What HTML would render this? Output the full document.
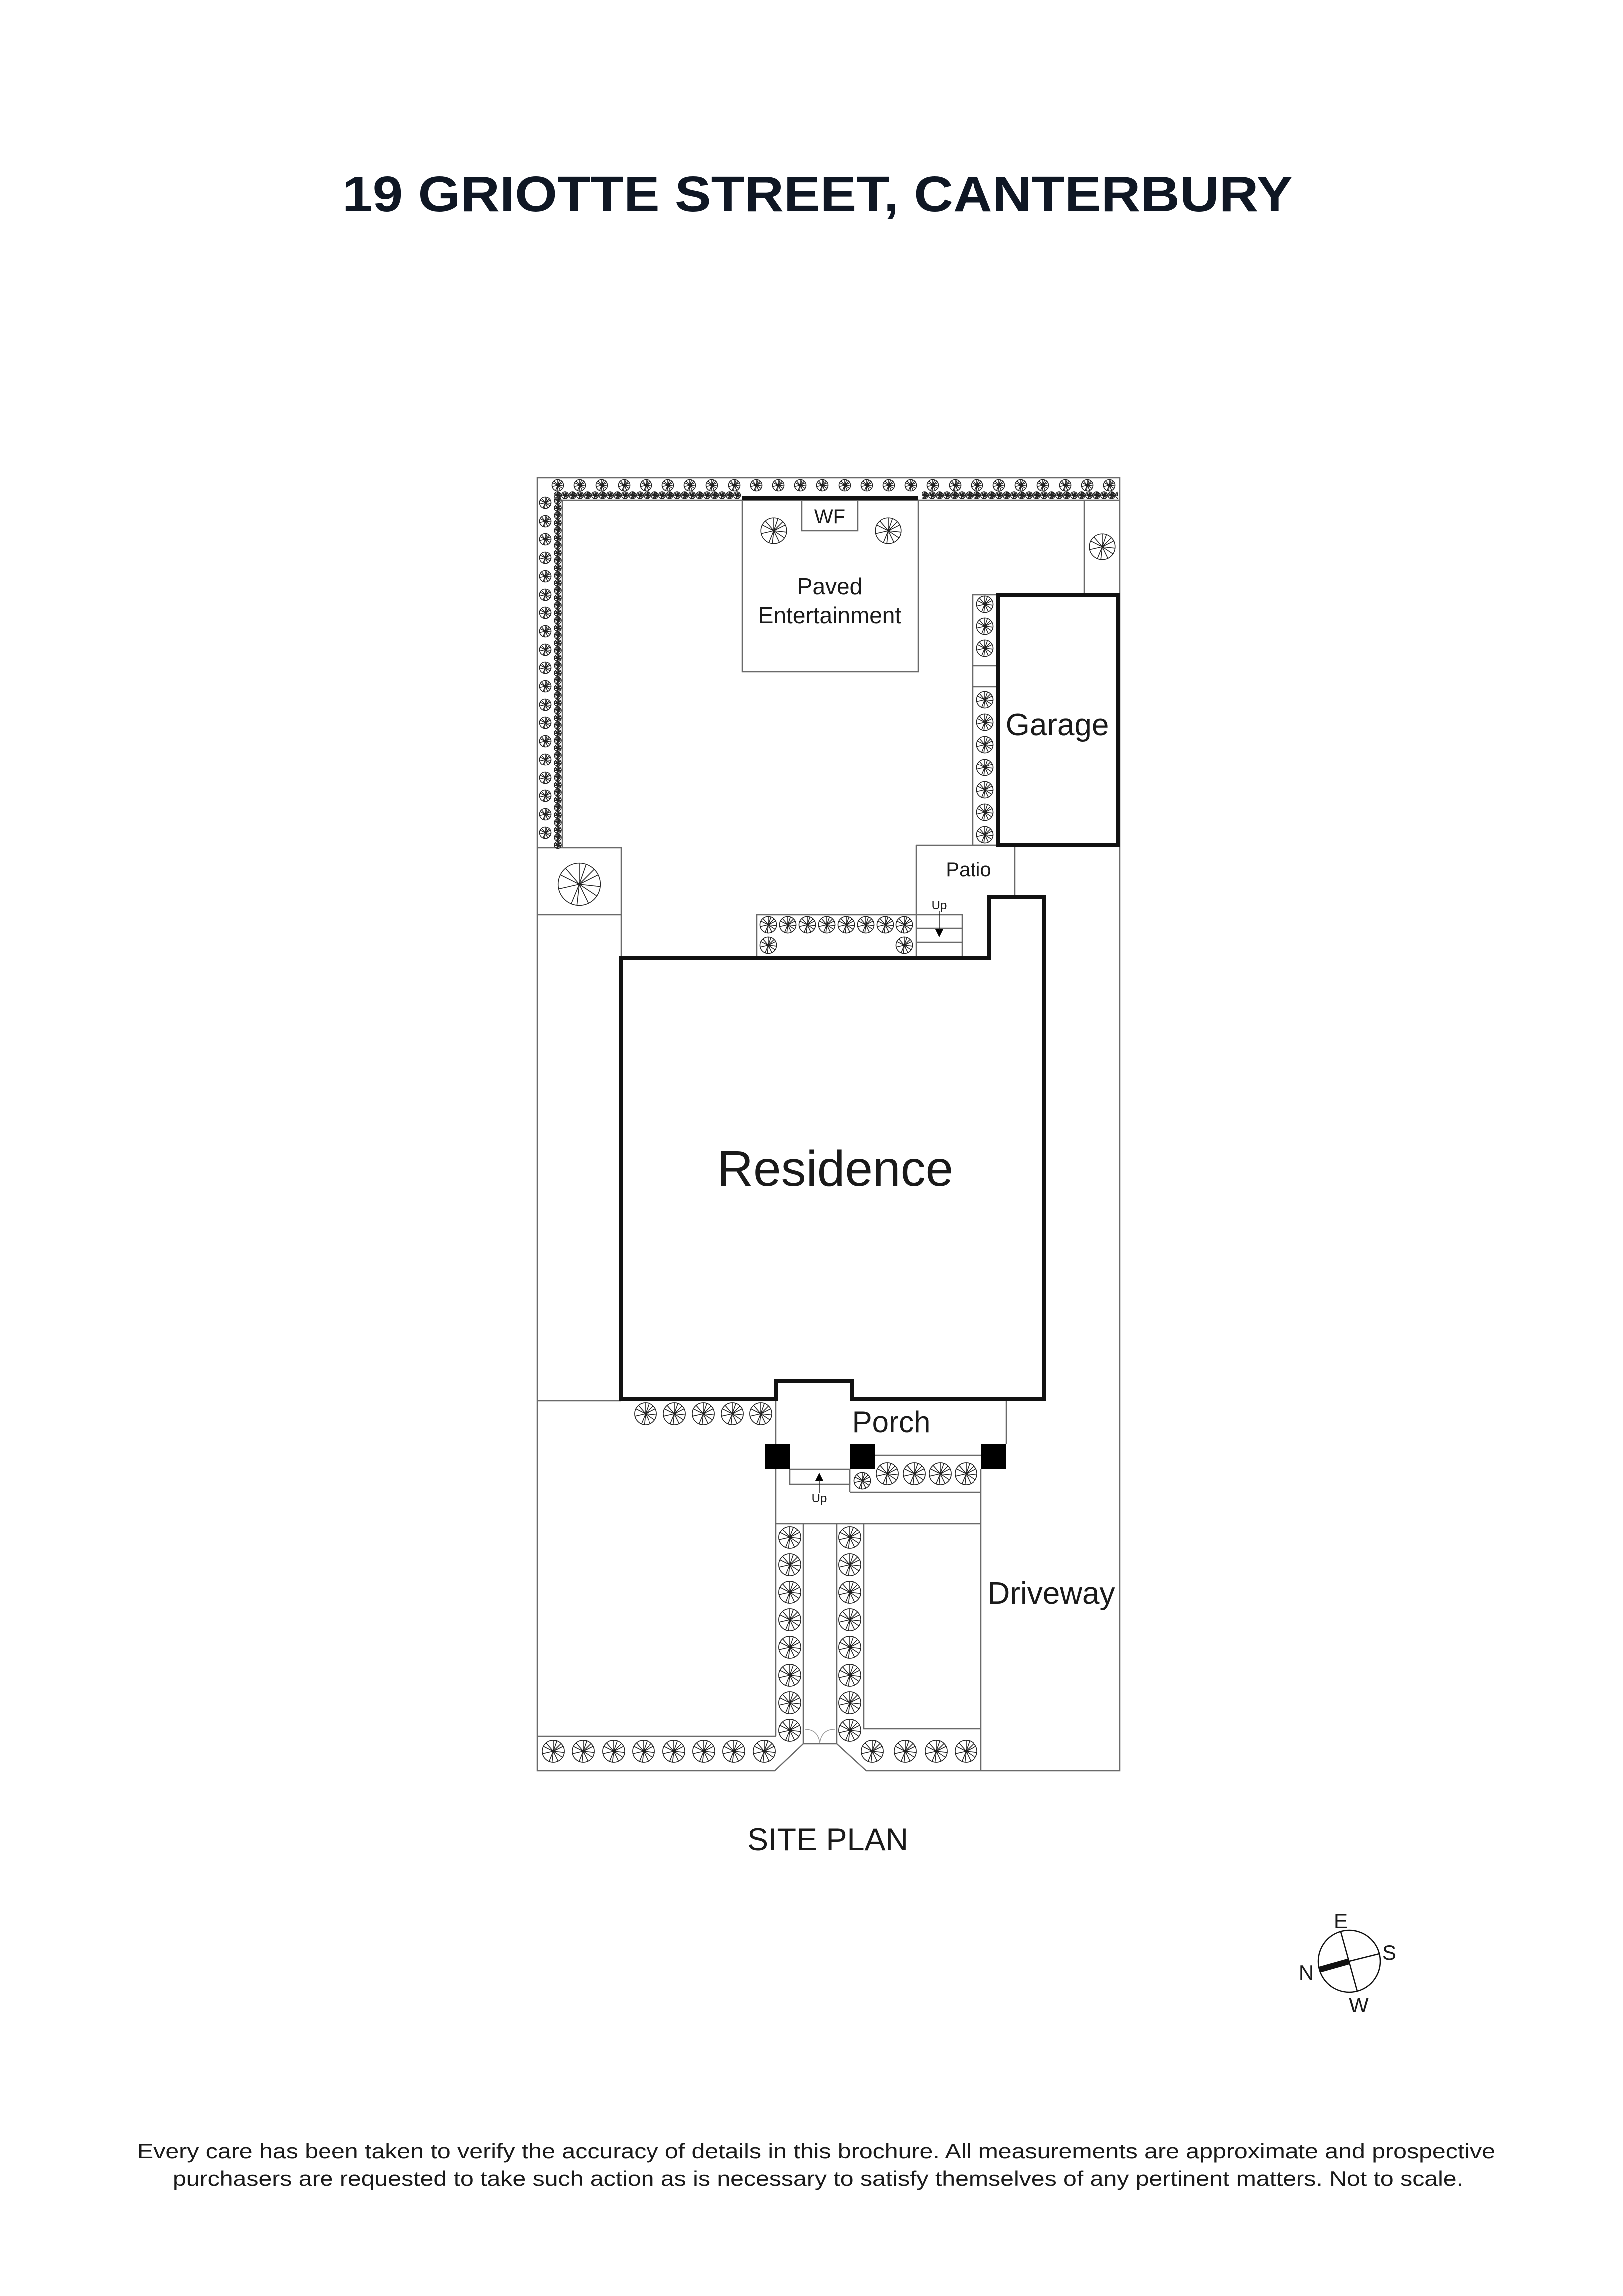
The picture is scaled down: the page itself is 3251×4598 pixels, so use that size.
<!DOCTYPE html>
<html><head><meta charset="utf-8"><style>
html,body{margin:0;padding:0;background:#fff;}
svg{display:block;}
text{font-family:"Liberation Sans",sans-serif;fill:#1a1a1a;}
</style></head><body>
<svg width="3251" height="4598" viewBox="0 0 3251 4598" xmlns="http://www.w3.org/2000/svg">
<defs>
<symbol id="t" viewBox="-10 -10 20 20" overflow="visible">
<g fill="#fff" stroke="#222" stroke-width="1.6" vector-effect="non-scaling-stroke">
<circle r="9.2" vector-effect="non-scaling-stroke"/>
<path d="M0 0L0 -9M0 0L6.5 -6.5M0 0L9 1M0 0L4 8.2M0 0L-3.5 8.5M0 0L-8.8 2M0 0L-6 -7M0 0L3 -8.6M0 0L8 -4M0 0L7.5 5M0 0L-1 9M0 0L-8 -4" fill="none" vector-effect="non-scaling-stroke"/>
</g>
</symbol>
<pattern id="dh" x="1109" y="984" width="15" height="16" patternUnits="userSpaceOnUse">
<use href="#t" x="0" y="0.5" width="15" height="15"/>
</pattern>
<pattern id="dv" x="1109" y="995" width="16" height="15" patternUnits="userSpaceOnUse">
<use href="#t" x="0.5" y="0" width="15" height="15"/>
</pattern>
</defs>

<text x="686" y="423" font-size="100" font-weight="bold" textLength="1903" lengthAdjust="spacingAndGlyphs" style="fill:#0f1724">19 GRIOTTE STREET, CANTERBURY</text>

<g fill="none" stroke="#6a6a6a" stroke-width="2.5">
<path d="M1076 957 L2243 957 L2243 3546 L1735 3546 L1676 3492 L1609 3492 L1552 3546 L1076 3546 Z"/>
<path d="M1126 1002 L2243 1002"/>
<path d="M1126 1002 L1126 1698"/>
<rect x="1487" y="1002" width="352" height="343"/>
<rect x="1606" y="1002" width="112" height="61"/>
<path d="M2172 1002 L2172 1191"/>
<rect x="1948" y="1191" width="51" height="502"/>
<path d="M1948 1333 L1999 1333 M1948 1375 L1999 1375"/>
<path d="M1076 1698 L1244 1698 L1244 1918 M1076 1832 L1244 1832"/>
<path d="M1835 1693 L2243 1693 M1835 1693 L1835 1918 M2033 1693 L2033 1796"/>
<path d="M1516 1918 L1516 1832 L1927 1832 L1927 1918 M1835 1859 L1927 1859 M1835 1887 L1927 1887"/>
<path d="M1076 2805 L1244 2805"/>
<path d="M1554 2805 L1554 3477 M1076 3477 L1554 3477"/>
<path d="M2016 2805 L2016 2892"/>
<rect x="1582" y="2942" width="120" height="30"/>
<path d="M1702 2988 L1965 2988 M1752 2914 L1965 2914 M1965 2942 L1965 3546"/>
<path d="M1554 3051 L1965 3051"/>
<path d="M1609 3051 L1609 3492 M1676 3051 L1676 3492 M1730 3051 L1730 3462 L1965 3462"/>
<path d="M1702 2942 L1702 2988"/>
</g>
<g fill="none" stroke="#999" stroke-width="1.5">
<path d="M1612 3463 Q1638 3463 1642 3490 M1672 3463 Q1646 3463 1642 3490"/>
</g>

<g fill="none" stroke="#111" stroke-width="8">
<path d="M1487 998 L1839 998"/>
<rect x="1999" y="1191" width="240" height="502"/>
<path d="M1244 1918 L1981 1918 L1981 1796 L2092 1796 L2092 2802 L1707 2802 L1707 2766 L1554 2766 L1554 2802 L1244 2802 Z"/>
</g>
<g fill="#000">
<rect x="1532" y="2892" width="51" height="50"/>
<rect x="1702" y="2892" width="50" height="50"/>
<rect x="1966" y="2892" width="50" height="50"/>
<path d="M1873 1861 L1889 1861 L1881 1877 Z"/>
<path d="M1633 2965 L1649 2965 L1641 2949 Z"/>
</g>
<g stroke="#222" stroke-width="1.5">
<path d="M1881 1824 L1881 1862 M1641 2963 L1641 2990"/>
</g>

<rect x="1109" y="984" width="375" height="16" fill="url(#dh)"/>
<rect x="1847" y="984" width="392" height="16" fill="url(#dh)"/>
<rect x="1109" y="995" width="16" height="705" fill="url(#dv)"/>

<g>
<use href="#t" x="1104.5" y="959.5" width="25" height="25"/><use href="#t" x="1148.5" y="959.5" width="25" height="25"/><use href="#t" x="1192.5" y="959.5" width="25" height="25"/><use href="#t" x="1237.5" y="959.5" width="25" height="25"/><use href="#t" x="1281.5" y="959.5" width="25" height="25"/><use href="#t" x="1325.5" y="959.5" width="25" height="25"/><use href="#t" x="1369.5" y="959.5" width="25" height="25"/><use href="#t" x="1413.5" y="959.5" width="25" height="25"/><use href="#t" x="1458.5" y="959.5" width="25" height="25"/><use href="#t" x="1502.5" y="959.5" width="25" height="25"/><use href="#t" x="1546.5" y="959.5" width="25" height="25"/><use href="#t" x="1590.5" y="959.5" width="25" height="25"/><use href="#t" x="1634.5" y="959.5" width="25" height="25"/><use href="#t" x="1679.5" y="959.5" width="25" height="25"/><use href="#t" x="1723.5" y="959.5" width="25" height="25"/><use href="#t" x="1767.5" y="959.5" width="25" height="25"/><use href="#t" x="1811.5" y="959.5" width="25" height="25"/><use href="#t" x="1855.5" y="959.5" width="25" height="25"/><use href="#t" x="1900.5" y="959.5" width="25" height="25"/><use href="#t" x="1944.5" y="959.5" width="25" height="25"/><use href="#t" x="1988.5" y="959.5" width="25" height="25"/><use href="#t" x="2032.5" y="959.5" width="25" height="25"/><use href="#t" x="2076.5" y="959.5" width="25" height="25"/><use href="#t" x="2121.5" y="959.5" width="25" height="25"/><use href="#t" x="2165.5" y="959.5" width="25" height="25"/><use href="#t" x="2209.5" y="959.5" width="25" height="25"/>
</g>
<g>
<use href="#t" x="1079.5" y="994.5" width="25" height="25"/><use href="#t" x="1079.5" y="1031.5" width="25" height="25"/><use href="#t" x="1079.5" y="1067.5" width="25" height="25"/><use href="#t" x="1079.5" y="1104.5" width="25" height="25"/><use href="#t" x="1079.5" y="1141.5" width="25" height="25"/><use href="#t" x="1079.5" y="1178.5" width="25" height="25"/><use href="#t" x="1079.5" y="1214.5" width="25" height="25"/><use href="#t" x="1079.5" y="1251.5" width="25" height="25"/><use href="#t" x="1079.5" y="1288.5" width="25" height="25"/><use href="#t" x="1079.5" y="1324.5" width="25" height="25"/><use href="#t" x="1079.5" y="1361.5" width="25" height="25"/><use href="#t" x="1079.5" y="1398.5" width="25" height="25"/><use href="#t" x="1079.5" y="1434.5" width="25" height="25"/><use href="#t" x="1079.5" y="1471.5" width="25" height="25"/><use href="#t" x="1079.5" y="1508.5" width="25" height="25"/><use href="#t" x="1079.5" y="1545.5" width="25" height="25"/><use href="#t" x="1079.5" y="1581.5" width="25" height="25"/><use href="#t" x="1079.5" y="1618.5" width="25" height="25"/><use href="#t" x="1079.5" y="1655.5" width="25" height="25"/>
</g>
<use href="#t" x="1522" y="1035" width="56" height="56"/>
<use href="#t" x="1751" y="1035" width="56" height="56"/>
<use href="#t" x="2180" y="1067" width="56" height="56"/>
<use href="#t" x="1114" y="1725" width="92" height="92"/>
<g>
<use href="#t" x="1955" y="1192" width="36" height="36"/><use href="#t" x="1955" y="1236" width="36" height="36"/><use href="#t" x="1955" y="1280" width="36" height="36"/>
<use href="#t" x="1955" y="1383" width="36" height="36"/><use href="#t" x="1955" y="1428" width="36" height="36"/><use href="#t" x="1955" y="1473" width="36" height="36"/><use href="#t" x="1955" y="1519" width="36" height="36"/><use href="#t" x="1955" y="1564" width="36" height="36"/><use href="#t" x="1955" y="1609" width="36" height="36"/><use href="#t" x="1955" y="1654" width="36" height="36"/>
</g>
<g>
<use href="#t" x="1521" y="1834" width="36" height="36"/><use href="#t" x="1560" y="1834" width="36" height="36"/><use href="#t" x="1599" y="1834" width="36" height="36"/><use href="#t" x="1638" y="1834" width="36" height="36"/><use href="#t" x="1677" y="1834" width="36" height="36"/><use href="#t" x="1716" y="1834" width="36" height="36"/><use href="#t" x="1755" y="1834" width="36" height="36"/><use href="#t" x="1793" y="1834" width="36" height="36"/>
<use href="#t" x="1521" y="1875" width="36" height="36"/><use href="#t" x="1793" y="1875" width="36" height="36"/>
</g>
<g>
<use href="#t" x="1269" y="2807" width="48" height="48"/><use href="#t" x="1327" y="2807" width="48" height="48"/><use href="#t" x="1385" y="2807" width="48" height="48"/><use href="#t" x="1443" y="2807" width="48" height="48"/><use href="#t" x="1500" y="2807" width="48" height="48"/>
</g>
<g>
<use href="#t" x="1709" y="2947" width="36" height="36"/>
<use href="#t" x="1753" y="2927" width="48" height="48"/><use href="#t" x="1807" y="2927" width="48" height="48"/><use href="#t" x="1859" y="2927" width="48" height="48"/><use href="#t" x="1911" y="2927" width="48" height="48"/>
</g>
<g>
<use href="#t" x="1558" y="3055" width="48" height="48"/><use href="#t" x="1558" y="3110" width="48" height="48"/><use href="#t" x="1558" y="3165" width="48" height="48"/><use href="#t" x="1558" y="3220" width="48" height="48"/><use href="#t" x="1558" y="3275" width="48" height="48"/><use href="#t" x="1558" y="3331" width="48" height="48"/><use href="#t" x="1558" y="3386" width="48" height="48"/><use href="#t" x="1558" y="3441" width="48" height="48"/>
<use href="#t" x="1678" y="3055" width="48" height="48"/><use href="#t" x="1678" y="3110" width="48" height="48"/><use href="#t" x="1678" y="3165" width="48" height="48"/><use href="#t" x="1678" y="3220" width="48" height="48"/><use href="#t" x="1678" y="3275" width="48" height="48"/><use href="#t" x="1678" y="3331" width="48" height="48"/><use href="#t" x="1678" y="3386" width="48" height="48"/><use href="#t" x="1678" y="3441" width="48" height="48"/>
</g>
<g>
<use href="#t" x="1084" y="3483" width="48" height="48"/><use href="#t" x="1144" y="3483" width="48" height="48"/><use href="#t" x="1205" y="3483" width="48" height="48"/><use href="#t" x="1265" y="3483" width="48" height="48"/><use href="#t" x="1326" y="3483" width="48" height="48"/><use href="#t" x="1386" y="3483" width="48" height="48"/><use href="#t" x="1446" y="3483" width="48" height="48"/><use href="#t" x="1507" y="3483" width="48" height="48"/>
<use href="#t" x="1723" y="3483" width="48" height="48"/><use href="#t" x="1789" y="3483" width="48" height="48"/><use href="#t" x="1851" y="3483" width="48" height="48"/><use href="#t" x="1911" y="3483" width="48" height="48"/>
</g>

<text x="1662" y="1048" font-size="40" text-anchor="middle">WF</text>
<text x="1662" y="1190" font-size="46" text-anchor="middle">Paved</text>
<text x="1662" y="1248" font-size="46" text-anchor="middle">Entertainment</text>
<text x="2118" y="1472" font-size="62" text-anchor="middle">Garage</text>
<text x="1940" y="1755" font-size="40" text-anchor="middle">Patio</text>
<text x="1881" y="1821" font-size="24" text-anchor="middle">Up</text>
<text x="1673" y="2375" font-size="100" text-anchor="middle">Residence</text>
<text x="1785" y="2868" font-size="60" text-anchor="middle">Porch</text>
<text x="1641" y="3008" font-size="24" text-anchor="middle">Up</text>
<text x="2106" y="3212" font-size="62" text-anchor="middle">Driveway</text>

<text x="1658" y="3705" font-size="63" text-anchor="middle">SITE PLAN</text>

<g stroke="#111" fill="none">
<circle cx="2703" cy="3928" r="62" stroke-width="2.5"/>
<path d="M2686 3869 L2719 3988 M2703 3928 L2763 3913" stroke-width="2.5"/>
<path d="M2703 3928 L2643 3945" stroke-width="12"/>
</g>
<text x="2686" y="3862" font-size="42" text-anchor="middle">E</text>
<text x="2783" y="3925" font-size="42" text-anchor="middle">S</text>
<text x="2617" y="3965" font-size="42" text-anchor="middle">N</text>
<text x="2722" y="4030" font-size="42" text-anchor="middle">W</text>

<text x="275" y="4322" font-size="42" textLength="2720" lengthAdjust="spacingAndGlyphs">Every care has been taken to verify the accuracy of details in this brochure. All measurements are approximate and prospective</text>
<text x="346" y="4377" font-size="42" textLength="2585" lengthAdjust="spacingAndGlyphs">purchasers are requested to take such action as is necessary to satisfy themselves of any pertinent matters. Not to scale.</text>
</svg>
</body></html>
